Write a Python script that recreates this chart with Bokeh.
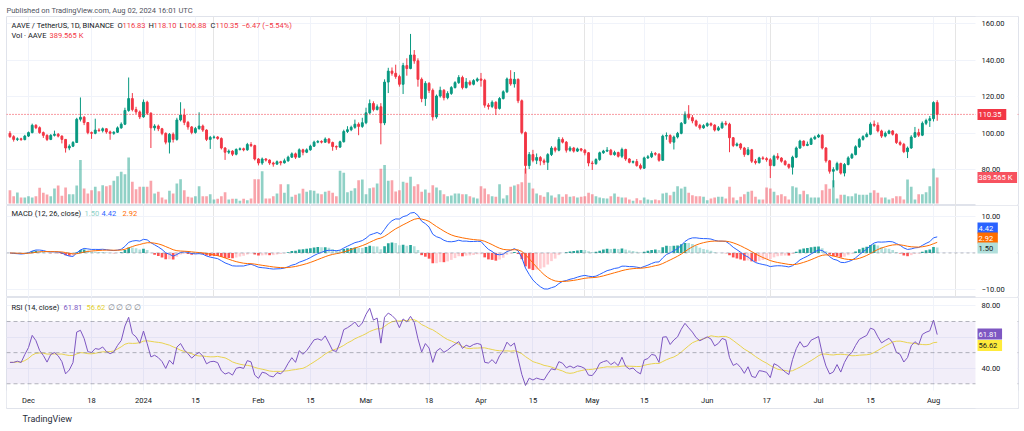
import numpy as np
import pandas as pd
from bokeh.plotting import figure
from bokeh.layouts import column
from bokeh.models import (Range1d, FixedTicker, Grid, Span, BoxAnnotation, Label, Title,
                          ColumnDataSource, PrintfTickFormatter)
from bokeh.embed import file_html
from bokeh.resources import INLINE

# ---------------- data ----------------
symbol_text = "AAVE / TetherUS, 1D, BINANCE"
published_text = "Published on TradingView.com, Aug 02, 2024 16:01 UTC"
first_date = "2023-11-26"
first_open = 100.0

closes = [
    98.2, 96.7, 97.0, 96.6, 98.5,
    100.4, 104.4, 103.1, 100.4, 98.9, 96.7, 98.9, 99.5, 98.5, 96.7, 92.0, 93.0, 95.0, 107.7, 108.8, 105.9,
    100.4, 100.0, 101.8, 101.5, 102.5, 100.8, 100.0, 100.6, 103.0, 105.0, 112.5, 119.0, 113.0, 111.7, 109.0,
    117.0, 111.0, 103.0, 104.0, 102.5, 100.0, 95.2, 99.5, 96.7, 107.3, 110.0, 106.0, 103.5, 100.5, 102.6, 104.0,
    101.8, 96.7, 97.8, 98.0, 97.2, 92.0, 89.7, 90.3, 88.6, 91.2, 91.6, 91.0, 93.9, 93.3, 86.0,
    83.8, 86.0, 85.4, 83.8, 83.2, 84.5, 83.9, 85.0, 87.0, 88.8, 87.0, 91.0, 89.7, 91.0, 93.0,
    95.2, 95.6, 95.2, 96.9, 95.0, 92.8, 92.5, 95.4, 101.0, 102.0, 103.3, 105.0, 103.8, 105.8,
    111.2, 116.3, 113.0, 114.5, 105.7, 128.0, 134.0, 132.8, 131.0, 126.8, 137.0, 135.4, 142.8, 139.6, 129.5,
    119.0, 127.3, 123.5, 109.0, 120.4, 123.5, 119.5, 121.8, 125.0, 127.7, 130.5, 125.0, 128.0, 126.8, 128.8, 129.7,
    129.0, 115.4, 114.7, 117.0, 113.6, 119.0, 122.7, 129.7, 127.0, 129.5, 117.8, 100.4, 82.4, 88.4, 85.3,
    86.8, 85.0, 84.2, 88.4, 92.0, 90.8, 96.7, 95.2, 90.8, 92.0, 90.3, 91.5, 90.8, 89.4, 83.8,
    83.5, 85.7, 89.4, 90.3, 90.8, 88.4, 89.5, 87.5, 91.2, 86.0, 84.2, 84.6, 82.4, 81.0, 86.6, 87.2,
    89.0, 88.6, 85.3, 98.5, 98.8, 95.2, 98.0, 100.0, 105.5, 110.5, 108.6, 106.8, 104.4, 103.0, 104.2,
    105.3, 104.5, 101.8, 103.0, 105.5, 105.0, 97.6, 93.4, 94.2, 92.0, 88.5, 91.0, 84.8, 84.0, 86.6,
    86.2, 85.6, 82.4, 87.5, 86.5, 84.8, 83.0, 81.5, 87.0, 92.0, 95.8, 93.4, 94.0, 97.0, 98.0,
    99.0, 92.0, 85.0, 79.3, 80.2, 83.5, 78.3, 83.0, 86.6, 88.4, 92.7, 96.7, 98.2, 99.5, 105.0, 104.4,
    101.3, 98.5, 100.0, 101.3, 99.5, 95.0, 94.0, 90.0, 92.0, 98.0, 100.4, 99.0, 105.5, 107.0, 108.0,
    116.83, 110.35,
]

highs = [
    101.2, 99.0, 97.8, 97.6, 99.2,
    101.0, 105.3, 105.0, 103.8, 101.0, 99.5, 99.6, 101.5, 100.2, 98.9, 96.9, 94.0, 95.8, 108.5, 119.6, 109.5,
    106.2, 101.0, 108.0, 102.8, 103.2, 102.8, 101.5, 101.2, 103.8, 106.0, 114.0, 130.5, 122.0, 114.5, 112.5,
    118.5, 117.8, 111.5, 105.0, 104.8, 103.0, 100.5, 100.2, 100.5, 108.5, 117.0, 113.5, 106.8, 104.0, 103.5, 111.5,
    104.8, 102.2, 98.6, 98.8, 98.5, 97.8, 92.5, 91.2, 90.8, 91.8, 92.3, 92.2, 94.8, 95.2, 93.8,
    86.5, 86.8, 86.5, 85.8, 84.5, 85.2, 85.0, 86.2, 87.8, 89.6, 89.5, 91.8, 91.6, 91.8, 93.8,
    96.0, 96.3, 96.2, 97.8, 97.5, 95.5, 93.4, 96.0, 102.0, 103.9, 104.2, 107.5, 106.0, 108.5,
    114.0, 118.5, 117.5, 115.8, 116.5, 129.5, 135.8, 136.0, 137.5, 132.0, 138.5, 141.0, 154.3, 145.5, 141.0,
    130.5, 128.5, 128.0, 124.5, 121.2, 125.5, 124.2, 123.0, 125.8, 128.5, 131.8, 131.5, 130.2, 129.0, 129.6, 130.5,
    133.0, 129.8, 116.5, 118.0, 117.5, 119.8, 123.5, 130.5, 134.5, 133.5, 130.0, 118.5, 101.0, 89.8, 91.0,
    89.0, 87.6, 86.2, 89.2, 93.0, 92.8, 98.0, 97.8, 95.8, 93.0, 92.6, 92.2, 92.0, 91.5, 89.8,
    85.0, 86.4, 90.0, 91.0, 92.5, 91.5, 90.5, 90.0, 92.2, 91.6, 86.5, 85.2, 86.0, 83.5, 87.3, 88.2,
    90.2, 89.8, 89.2, 99.3, 100.5, 99.5, 98.8, 100.8, 106.2, 112.0, 115.4, 110.0, 107.5, 105.2, 105.0,
    106.0, 106.0, 105.0, 104.0, 106.5, 106.8, 105.8, 98.0, 95.0, 94.8, 92.6, 92.5, 91.5, 86.0, 87.2,
    87.5, 87.0, 86.5, 88.3, 89.2, 87.0, 85.5, 83.5, 87.8, 92.8, 96.5, 96.2, 95.5, 97.8, 98.8,
    99.8, 99.5, 92.5, 85.5, 81.5, 84.5, 84.0, 83.8, 87.5, 89.3, 93.5, 97.5, 99.0, 100.5, 106.0, 107.0,
    106.0, 102.0, 101.0, 102.0, 101.8, 100.0, 96.0, 94.8, 92.8, 99.0, 103.5, 102.5, 106.5, 108.0, 109.5,
    117.5, 118.10,
]

lows = [
    97.5, 95.5, 95.8, 95.9, 96.2,
    98.0, 100.0, 102.3, 99.8, 97.5, 95.8, 96.3, 98.3, 97.8, 94.5, 89.5, 90.8, 92.5, 94.8, 106.5, 104.5,
    99.5, 97.0, 99.5, 100.8, 100.5, 99.8, 96.5, 99.2, 100.2, 102.5, 104.5, 111.8, 112.0, 110.5, 107.8,
    108.5, 110.0, 92.0, 101.5, 101.2, 99.0, 94.0, 89.0, 95.0, 96.0, 106.5, 104.5, 102.0, 99.5, 99.8, 102.0,
    100.8, 95.8, 91.5, 97.0, 96.5, 91.2, 85.5, 88.7, 87.6, 88.0, 90.6, 90.2, 90.5, 92.5, 85.2,
    82.5, 82.8, 84.6, 82.8, 81.8, 82.8, 82.5, 83.5, 84.5, 86.6, 86.0, 86.8, 88.0, 89.2, 90.5,
    92.6, 94.6, 94.5, 94.8, 94.2, 90.5, 91.0, 92.0, 95.0, 100.2, 101.2, 102.5, 99.0, 103.0,
    105.0, 110.5, 112.0, 112.5, 94.0, 104.5, 122.0, 131.5, 129.8, 125.5, 121.5, 131.5, 135.0, 138.0, 125.5,
    117.0, 115.0, 122.0, 107.0, 108.0, 119.5, 118.0, 118.6, 121.0, 124.5, 127.0, 124.0, 124.5, 126.0, 126.2, 128.0,
    125.5, 114.0, 113.0, 113.8, 110.0, 113.0, 118.5, 122.0, 126.0, 125.0, 116.5, 99.5, 78.0, 80.5, 84.2,
    83.2, 82.5, 82.8, 80.0, 87.6, 89.6, 90.2, 94.5, 89.5, 90.0, 89.5, 89.8, 90.0, 88.0, 82.0,
    80.0, 82.8, 85.0, 88.8, 89.8, 88.0, 87.8, 86.8, 86.5, 85.0, 83.6, 83.5, 81.8, 80.2, 80.5, 86.0,
    86.5, 87.8, 84.5, 85.0, 96.5, 94.2, 91.2, 97.2, 99.5, 105.0, 107.5, 105.5, 103.5, 102.0, 102.5,
    103.5, 103.8, 101.0, 101.2, 102.5, 104.2, 89.7, 92.5, 92.8, 91.0, 87.2, 88.0, 83.8, 83.0, 83.5,
    85.5, 84.5, 75.6, 82.0, 85.5, 84.0, 82.3, 80.6, 77.5, 86.5, 91.5, 92.8, 93.0, 93.8, 96.5,
    97.5, 91.2, 84.0, 78.0, 70.5, 79.5, 77.5, 76.5, 82.5, 86.0, 88.0, 92.0, 96.0, 97.8, 99.0, 103.5,
    100.5, 97.5, 97.8, 99.5, 98.8, 94.2, 93.2, 89.2, 86.5, 91.5, 97.5, 98.0, 98.5, 104.5, 103.5,
    106.5, 106.88,
]

volumes_k = [
    200, 110, 165, 90, 90,
    110, 90, 110, 235, 160, 135, 110, 225, 270, 115, 240, 140, 140, 270, 650, 225,
    150, 200, 250, 185, 275, 260, 275, 340, 410, 475, 440, 690, 325, 215, 250,
    250, 250, 340, 150, 175, 90, 60, 190, 150, 300, 365, 200, 100, 90, 110, 260,
    110, 110, 140, 60, 70, 110, 170, 60, 70, 70, 40, 70, 50, 75, 365,
    365, 485, 75, 75, 110, 150, 290, 160, 290, 100, 130, 150, 220, 175, 200,
    190, 150, 140, 175, 190, 160, 110, 490, 460, 170, 190, 230, 350, 360,
    140, 230, 240, 300, 520, 575, 340, 350, 180, 200, 325, 310, 400, 260, 290,
    175, 210, 160, 275, 240, 200, 140, 110, 120, 150, 150, 140, 140, 110, 90, 75,
    260, 225, 140, 110, 100, 290, 75, 125, 250, 270, 290, 320, 525, 310, 225,
    150, 125, 100, 170, 120, 90, 140, 100, 140, 100, 110, 90, 100, 110, 160,
    140, 110, 90, 80, 75, 110, 150, 100, 90, 90, 60, 40, 80, 50, 90, 60,
    50, 60, 50, 150, 160, 125, 175, 260, 225, 250, 160, 125, 110, 110, 100,
    50, 75, 90, 100, 100, 75, 250, 90, 50, 100, 140, 175, 190, 100, 60,
    60, 240, 225, 175, 125, 140, 110, 60, 260, 240, 140, 190, 140, 90, 90,
    90, 200, 290, 220, 350, 75, 130, 130, 110, 110, 150, 130, 130, 130, 160, 200,
    160, 90, 90, 60, 80, 110, 110, 60, 360, 250, 60, 140, 140, 170, 260,
    525, 389.565,
]

tick_dates = ["2023-12-01", "2023-12-18", "2024-01-01", "2024-01-15", "2024-02-01", "2024-02-15",
              "2024-03-01", "2024-03-18", "2024-04-01", "2024-04-15", "2024-05-01", "2024-05-15",
              "2024-06-01", "2024-06-17", "2024-07-01", "2024-07-15", "2024-08-01"]
tick_labels = ["Dec", "18", "2024", "15", "Feb", "15", "Mar", "18", "Apr", "15", "May", "15",
               "Jun", "17", "Jul", "15", "Aug"]
price_ticks = [80, 100, 120, 140, 160]
macd_ticks = [-10, 10]
macd_grid = [-10, 0, 10]
rsi_ticks = [40, 80]
rsi_grid = [40, 60, 80]

last_price = 110.35
ohlc_labels = [("O", "116.83"), ("H", "118.10"), ("L", "106.88"), ("C", "110.35")]
change_text = "\u22126.47 (\u22125.54%)"
vol_text = "389.565 K"
macd_vals = ["1.50", "4.42", "2.92"]
rsi_vals = ["61.81", "56.62"]

# ---------------- derived series ----------------
ref = pd.Timestamp("2023-12-01")
dates = pd.date_range(first_date, periods=len(closes), freq="D")
xd = np.array((dates - ref).days, dtype=float)
c = np.array(closes, dtype=float)
o = np.concatenate([[first_open], c[:-1]])
h = np.array(highs, dtype=float)
lo = np.array(lows, dtype=float)
v = np.array(volumes_k, dtype=float)
up = c >= o

UP, DN = "#089981", "#F23645"
colors = [UP if u else DN for u in up]


def ema(x, n):
    a = 2.0 / (n + 1)
    out = np.empty_like(x)
    out[0] = x[0]
    for i in range(1, len(x)):
        out[i] = a * x[i] + (1 - a) * out[i - 1]
    return out


macd = ema(c, 12) - ema(c, 26)
signal = ema(macd, 9)
hist = macd - signal
hcol = []
for i, hv in enumerate(hist):
    prev = hist[i - 1] if i > 0 else 0
    if hv >= 0:
        hcol.append("#26A69A" if hv > prev else "#B2DFDB")
    else:
        hcol.append("#FF5252" if hv < prev else "#FFCDD2")

d = np.diff(c)
g = np.clip(d, 0, None)
l_ = np.clip(-d, 0, None)
ag, al = g[:14].mean(), l_[:14].mean()
rsi = [np.nan]
for gi, li in zip(g, l_):
    ag = (ag * 13 + gi) / 14
    al = (al * 13 + li) / 14
    rsi.append(100 - 100 / (1 + ag / al) if al > 0 else 100.0)
rsi = np.array(rsi)
rsi[0] = rsi[1]
rsi_ma = pd.Series(rsi).rolling(14, min_periods=1).mean().values

src = ColumnDataSource(dict(x=xd, o=o, c=c, h=h, l=lo, v=v, top=np.maximum(o, c),
                            bot=np.minimum(o, c), col=colors, macd=macd, sig=signal,
                            hist=hist, hcol=hcol, rsi=rsi, rsima=rsi_ma))

# ---------------- layout constants (page pixels) ----------------
W = 1024
LEFT, RIGHT = 6, 6
FRAME_R = W - RIGHT          # 1018
AXIS_X = 975                 # where the price scale begins
PX_DAY = 3.709
X_DEC1 = 28.0                # pixel of Dec 1
FONT = "Roboto"
TXT = "#131722"
GRID = "#F0F3FA"
SEP = "#E0E3EB"
tick_x = [float((pd.Timestamp(t) - ref).days) for t in tick_dates]


def dx(px):
    return (px - X_DEC1) / PX_DAY


x_start, x_end = dx(LEFT), dx(FRAME_R)


def mapper(top_px, bot_px, lo_v, hi_v):
    return lambda px: hi_v - (px - top_px) / (bot_px - top_px) * (hi_v - lo_v)


def base(height, y_range, top=0, bottom=0, x_axis=None, title=None):
    kw = dict(width=W, height=height, x_range=Range1d(x_start, x_end), y_range=y_range,
              output_backend="svg", toolbar_location=None, y_axis_location="right",
              x_axis_location=x_axis, min_border_left=LEFT, min_border_right=RIGHT,
              min_border_top=top, min_border_bottom=bottom)
    if title:
        kw["title"] = title
    p = figure(**kw)
    p.outline_line_color = SEP
    p.background_fill_color = "white"
    p.border_fill_color = "white"
    ax = p.yaxis[0]
    ax.axis_line_color = None
    ax.major_tick_line_color = None
    ax.minor_tick_line_color = None
    ax.major_tick_out = 0
    ax.major_tick_in = 0
    ax.major_label_standoff = -(FRAME_R - 981)
    ax.major_label_text_font = FONT
    ax.major_label_text_font_size = "7.5px"
    ax.major_label_text_color = TXT
    ax.formatter = PrintfTickFormatter(format="%.2f")
    ax.level = "overlay"
    p.ygrid.grid_line_color = GRID
    if x_axis is None:
        p.add_layout(Grid(dimension=0, ticker=FixedTicker(ticks=tick_x), grid_line_color=GRID))
    return p


def cover(p, **kw):
    b = BoxAnnotation(fill_color="white", fill_alpha=1.0, line_color=None, line_alpha=0, **kw)
    b.level = "annotation"
    p.add_layout(b)


def lbl(p, x_px, y, text, color=TXT, size="7.5px", bg=None, align="left"):
    kw = dict(x=dx(x_px), y=y, x_units="data", y_units="data", text=text, text_color=color,
              text_font=FONT, text_font_size=size, text_align=align, text_baseline="middle")
    if bg is not None:
        kw.update(background_fill_color=bg, background_fill_alpha=1.0, padding=1)
    lab = Label(**kw)
    lab.level = "overlay"
    p.add_layout(lab)


# ---------------- price panel (frame y 16..205) ----------------
P_TOP, P_BOT, p_lo, p_hi = 16, 205, 60.6, 163.82
py = mapper(P_TOP, P_BOT, p_lo, p_hi)
p1 = base(P_BOT, Range1d(p_lo, p_hi), top=P_TOP, title=published_text)
p1.title.align = "left"
p1.title.text_font = FONT
p1.title.text_font_size = "7.5px"
p1.title.text_font_style = "normal"
p1.title.text_color = "#50535E"
p1.title.standoff = 3
p1.title.offset = 0
p1.yaxis[0].ticker = FixedTicker(ticks=price_ticks)
p1.ygrid.ticker = FixedTicker(ticks=price_ticks)
p1.extra_y_ranges = {"vol": Range1d(-30, 2802)}
p1.vbar(x="x", top="v", bottom=0, width=0.72, fill_color="col", fill_alpha=0.45,
        line_color=None, y_range_name="vol", source=src)
p1.segment(x0="x", y0="h", x1="x", y1="l", line_color="col", line_width=1, source=src)
p1.vbar(x="x", top="top", bottom="bot", width=0.5, fill_color="col", line_color="col",
        line_width=1, source=src)
p1.add_layout(Span(location=last_price, dimension="width", line_color=DN, line_dash="1 2",
                   line_width=1))
cover(p1, left=dx(AXIS_X), right=dx(FRAME_R - 1))

row1, row2 = py(25), py(35)
lbl(p1, 11, row1, symbol_text)
for (k, val), (xa, xb) in zip(ohlc_labels, [(117, 122), (148, 153), (179, 183), (210, 215)]):
    lbl(p1, xa, row1, k)
    lbl(p1, xb, row1, val, color=DN)
lbl(p1, 241, row1, change_text, color=DN)
lbl(p1, 11, row2, "Vol \u00b7 AAVE")
lbl(p1, 49, row2, vol_text, color=DN)
lbl(p1, 977, last_price, " %.2f " % last_price, color="white", bg=DN)
lbl(p1, 977, py(177), " " + vol_text + " ", color="white", bg="#F7525F")

# ---------------- MACD panel (frame y 205..297) ----------------
M_TOP, M_BOT, m_lo, m_hi = 205, 297, -12.19, 13.01
my = mapper(M_TOP, M_BOT, m_lo, m_hi)
p2 = base(M_BOT - M_TOP, Range1d(m_lo, m_hi))
p2.yaxis[0].ticker = FixedTicker(ticks=macd_ticks)
p2.yaxis[0].major_label_overrides = {-10: "\u221210.00", 10: "10.00"}
p2.ygrid.ticker = FixedTicker(ticks=macd_grid)
p2.add_layout(Span(location=0, dimension="width", line_color="#787B86", line_alpha=0.5,
                   line_dash="3 3", line_width=1))
p2.vbar(x="x", top="hist", bottom=0, width=0.72, fill_color="hcol", line_color=None, source=src)
p2.line(x="x", y="macd", line_color="#2962FF", line_width=1, source=src)
p2.line(x="x", y="sig", line_color="#FF6D00", line_width=1, source=src)
cover(p2, left=dx(AXIS_X), right=dx(FRAME_R - 1))
mrow = my(213)
lbl(p2, 11, mrow, "MACD (12, 26, close)")
lbl(p2, 84, mrow, macd_vals[0], color="#8FD1C8")
lbl(p2, 101, mrow, macd_vals[1], color="#2962FF")
lbl(p2, 122, mrow, macd_vals[2], color="#FF6D00")
lbl(p2, 977, my(227.5), " " + macd_vals[1] + " ", color="white", bg="#2962FF")
lbl(p2, 977, my(237.5), " " + macd_vals[2] + " ", color="white", bg="#FF6D00")
lbl(p2, 977, my(247.5), " " + macd_vals[0] + " ", color=TXT, bg="#B2DFDB")

# ---------------- RSI panel (frame y 297..408) ----------------
R_TOP, R_BOT, r_lo, r_hi = 297, 408, 14.12, 85.41
ry = mapper(R_TOP, R_BOT, r_lo, r_hi)
p3 = base(431 - R_TOP, Range1d(r_lo, r_hi), bottom=431 - R_BOT, x_axis="below")
p3.yaxis[0].ticker = FixedTicker(ticks=rsi_ticks)
p3.ygrid.ticker = FixedTicker(ticks=rsi_grid)
xa = p3.xaxis[0]
xa.ticker = FixedTicker(ticks=tick_x)
xa.major_label_overrides = {t: s for t, s in zip(tick_x, tick_labels)}
xa.axis_line_color = None
xa.major_tick_line_color = None
xa.minor_tick_line_color = None
xa.major_tick_out = 0
xa.major_tick_in = 0
xa.major_label_standoff = -13
xa.major_label_text_font = FONT
xa.major_label_text_font_size = "7.5px"
xa.major_label_text_color = TXT
xa.level = "overlay"
p3.xgrid.ticker = FixedTicker(ticks=tick_x)
p3.xgrid.grid_line_color = GRID
p3.add_layout(BoxAnnotation(bottom=30, top=70, fill_color="#7E57C2", fill_alpha=0.1,
                            line_color=None))
for lv in (70, 50, 30):
    p3.add_layout(Span(location=lv, dimension="width", line_color="#787B86", line_alpha=0.55,
                       line_dash="4 3", line_width=1))
cover(p3, top=ry(390), bottom=ry(R_BOT - 1))
cover(p3, left=dx(AXIS_X), right=dx(FRAME_R - 1))
p3.line(x="x", y="rsima", line_color="#F5E142", line_width=1, source=src)
p3.line(x="x", y="rsi", line_color="#7E57C2", line_width=1, source=src)
rrow = ry(307)
lbl(p3, 11, rrow, "RSI (14, close)")
lbl(p3, 63, rrow, rsi_vals[0], color="#7E57C2")
lbl(p3, 86, rrow, rsi_vals[1], color="#E3CF2E")
lbl(p3, 107, rrow, "\u2205 \u2205 \u2205 \u2205", color="#787B86")
lbl(p3, 977, ry(333.5), " " + rsi_vals[0] + " ", color="white", bg="#7E57C2")
lbl(p3, 977, ry(345), " " + rsi_vals[1] + " ", color=TXT, bg="#FFEB3B")
p3.add_layout(Title(text="TradingView", align="left", offset=16, standoff=6,
                    text_font=FONT, text_font_size="9px", text_font_style="normal",
                    text_color="#2A2E39"), "below")

layout = column(p1, p2, p3)
open("out.html", "w").write(file_html(layout, INLINE))
